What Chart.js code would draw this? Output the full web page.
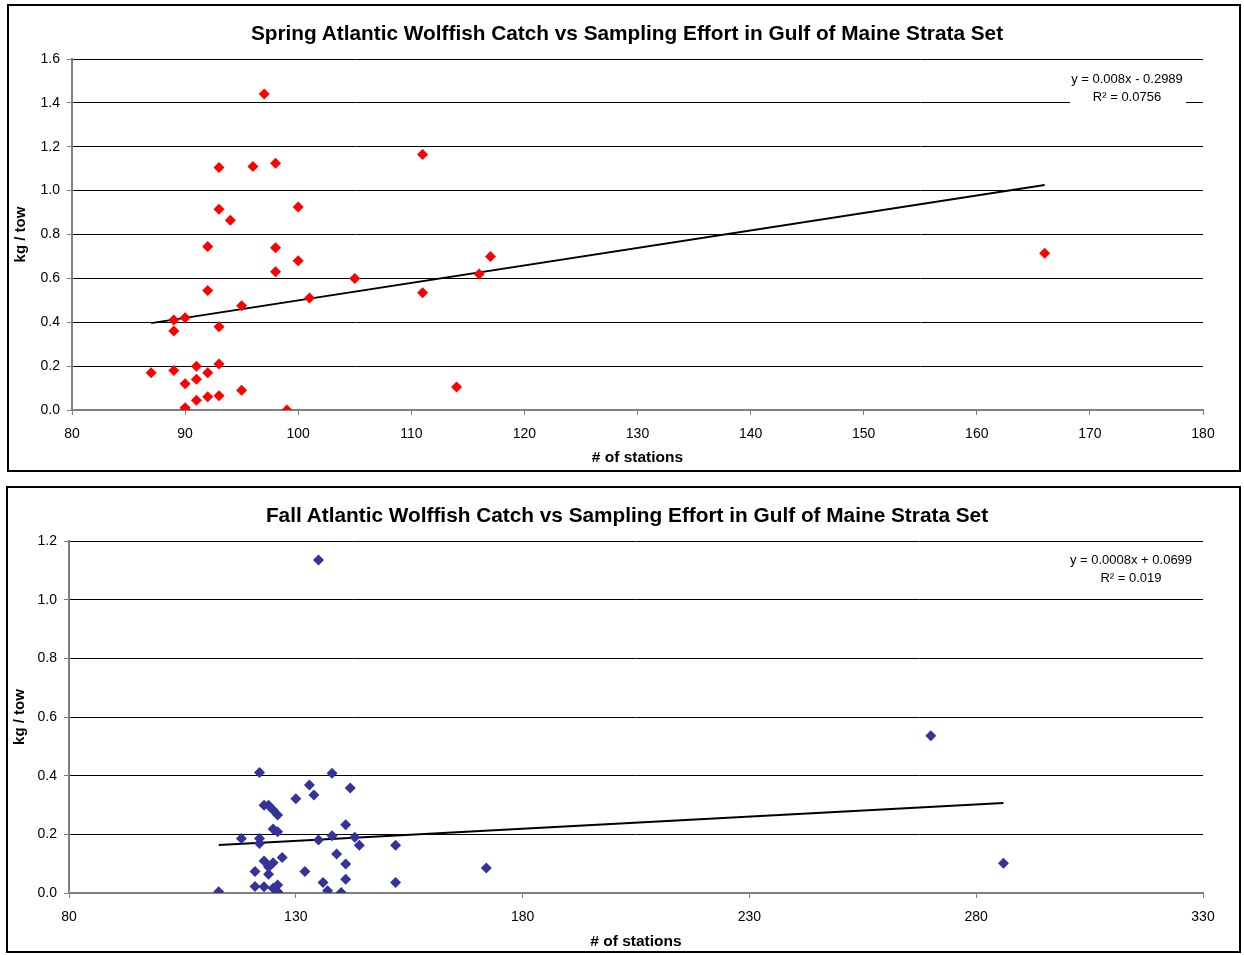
<html><head><meta charset="UTF-8"/>
<title>Atlantic Wolffish Catch vs Sampling Effort</title>
<script src="https://cdn.jsdelivr.net/npm/chart.js"></script>
<style>
* { margin: 0; padding: 0; box-sizing: border-box; }
body { background: #fff; width: 1244px; height: 955px; position: relative; overflow: hidden;
       font-family: Arial, 'Liberation Sans', sans-serif; }
.frame { position: absolute; border: 2px solid #000; }
#frameTop { left: 7px; top: 4px; width: 1234px; height: 468px; }
#frameBottom { left: 6px; top: 486px; width: 1235px; height: 467px; }
.chart-title { position: absolute; left: 0; width: 1254px; height: 24px; line-height: 24px;
               text-align: center; font-weight: bold; font-size: 20.8px; color: #000; white-space: nowrap; }
#titleTop { top: 21px; }
#titleBottom { top: 503px; }
canvas { position: absolute; left: 0; }
#springChart { top: 0; }
#fallChart { top: 480px; }
</style>
</head>
<body>
<div class="frame" id="frameTop"></div>
<div class="frame" id="frameBottom"></div>
<canvas id="springChart" width="1244" height="478"></canvas>
<canvas id="fallChart" width="1244" height="475"></canvas>
<div class="chart-title" id="titleTop">Spring Atlantic Wolffish Catch vs Sampling Effort in Gulf of Maine Strata Set</div>
<div class="chart-title" id="titleBottom">Fall Atlantic Wolffish Catch vs Sampling Effort in Gulf of Maine Strata Set</div>

<script>
// Spring survey: number of stations vs kg/tow
const springX = [87, 89, 89, 89, 90, 90, 90, 90, 91, 91, 91, 92, 92, 92, 92, 93, 93, 93, 93, 93,
    94, 95, 95, 96, 97, 98, 98, 98, 99, 100, 100, 101, 105, 111, 111, 114, 116, 117, 166];
const springY = [0.17, 0.41, 0.36, 0.18, 0.42, 0.12, 0.01, 0.0, 0.20, 0.14, 0.045, 0.745, 0.545, 0.17, 0.06,
    1.105, 0.915, 0.38, 0.21, 0.065, 0.865, 0.475, 0.09, 1.11, 1.44, 1.125, 0.74, 0.63, 0.0, 0.925, 0.68,
    0.51, 0.60, 1.165, 0.535, 0.105, 0.62, 0.70, 0.715];
const springTrendX = [87, 166];
const springTrendY = [0.396, 1.026];
const springEq = ['y = 0.008x - 0.2989', 'R² = 0.0756'];

// Fall survey
const fallX = [113, 118, 121, 121, 122, 122, 122, 123, 123, 123, 124, 124, 124, 125, 125, 125, 125,
    126, 126, 126, 126, 127, 130, 132, 133, 134, 135, 135, 136, 137, 138, 138, 139, 140, 141, 141, 141,
    142, 143, 144, 152, 152, 172, 270, 286];
const fallY = [0.004, 0.186, 0.073, 0.022, 0.411, 0.186, 0.169, 0.299, 0.109, 0.021, 0.299, 0.089, 0.064,
    0.283, 0.103, 0.218, 0.016, 0.266, 0.209, 0.027, 0.004, 0.121, 0.321, 0.073, 0.368, 0.334, 1.135, 0.181,
    0.036, 0.008, 0.408, 0.195, 0.133, 0.002, 0.233, 0.099, 0.047, 0.358, 0.190, 0.163, 0.163, 0.036,
    0.085, 0.536, 0.101];
const fallTrendX = [113, 286];
const fallTrendY = [0.164, 0.307];
const fallEq = ['y = 0.0008x + 0.0699', 'R² = 0.019'];

const FONT = "Arial, 'Liberation Sans', sans-serif";
const AXIS_GRAY = '#808080';

function toPoints(xs, ys) {
    return xs.map((x, i) => ({ x: x, y: ys[i] }));
}

// white box with trendline equation, like Excel's label
const equationLabel = {
    id: 'equationLabel',
    afterDatasetsDraw(chart, args, opts) {
        const ctx = chart.ctx;
        const a = chart.chartArea;
        const cx = a.right - opts.dx;
        ctx.save();
        ctx.fillStyle = '#fff';
        ctx.fillRect(cx - 57, a.top + 9, 116, 38);
        ctx.fillStyle = '#000';
        ctx.font = '13px ' + FONT;
        ctx.textAlign = 'center';
        ctx.textBaseline = 'middle';
        ctx.fillText(opts.lines[0], cx, a.top + opts.dy);
        ctx.fillText(opts.lines[1], cx, a.top + opts.dy + 18);
        ctx.restore();
    }
};

function makeChart(id, cfg) {
    return new Chart(document.getElementById(id), {
        type: 'scatter',
        data: {
            datasets: [{
                data: toPoints(cfg.xs, cfg.ys),
                pointStyle: 'rectRot',
                pointRadius: 5.5,
                pointHoverRadius: 5.5,
                backgroundColor: cfg.color,
                borderColor: cfg.color,
                borderWidth: 0
            }, {
                data: toPoints(cfg.trendX, cfg.trendY),
                showLine: true,
                pointRadius: 0,
                borderColor: '#000',
                borderWidth: 2
            }]
        },
        options: {
            responsive: false,
            animation: false,
            devicePixelRatio: 1,
            layout: { padding: { left: 0, right: 41, top: cfg.top, bottom: 0 } },
            plugins: {
                legend: { display: false },
                tooltip: { enabled: false },
                title: { display: false },
                equationLabel: { lines: cfg.eq, dx: cfg.eqDx, dy: cfg.eqDy }
            },
            scales: {
                x: {
                    type: 'linear',
                    min: cfg.xMin,
                    max: cfg.xMax,
                    ticks: {
                        stepSize: cfg.xStep,
                        color: '#000',
                        padding: 11,
                        font: { family: FONT, size: 14 }
                    },
                    grid: {
                        drawOnChartArea: false,
                        drawTicks: true,
                        tickLength: 5,
                        tickColor: AXIS_GRAY
                    },
                    border: { color: AXIS_GRAY, width: 2 },
                    title: {
                        display: true,
                        text: '# of stations',
                        color: '#000',
                        font: { family: FONT, size: 15.5, weight: 'bold', lineHeight: 1.2 },
                        padding: { top: 0, bottom: cfg.xTitlePad }
                    },
                    afterFit: s => { s.height = cfg.xHeight; }
                },
                y: {
                    type: 'linear',
                    min: 0,
                    max: cfg.yMax,
                    ticks: {
                        stepSize: 0.2,
                        color: '#000',
                        padding: 7,
                        font: { family: FONT, size: 14 },
                        callback: v => v.toFixed(1)
                    },
                    grid: {
                        color: c => (c.tick && c.tick.value === 0 ? AXIS_GRAY : '#000'),
                        lineWidth: 1,
                        tickLength: 5,
                        tickColor: AXIS_GRAY
                    },
                    border: { color: AXIS_GRAY, width: 2 },
                    title: {
                        display: true,
                        text: 'kg / tow',
                        color: '#000',
                        font: { family: FONT, size: 15, weight: 'bold', lineHeight: 1.2 },
                        padding: { top: cfg.yTitlePad, bottom: 0 }
                    },
                    afterFit: s => { s.width = cfg.yWidth; }
                }
            }
        },
        plugins: [equationLabel]
    });
}

makeChart('springChart', {
    xs: springX, ys: springY, trendX: springTrendX, trendY: springTrendY,
    color: '#FF0000', eq: springEq,
    xMin: 80, xMax: 180, xStep: 10, yMax: 1.6,
    top: 59,
    yWidth: 72, yTitlePad: 12,
    xHeight: 68, xTitlePad: 11,
    eqDx: 76, eqDy: 20
});

makeChart('fallChart', {
    xs: fallX, ys: fallY, trendX: fallTrendX, trendY: fallTrendY,
    color: '#333399', eq: fallEq,
    xMin: 80, xMax: 330, xStep: 50, yMax: 1.2,
    top: 61,
    yWidth: 69, yTitlePad: 11,
    xHeight: 62, xTitlePad: 4,
    eqDx: 72, eqDy: 19
});
</script>
</body></html>
